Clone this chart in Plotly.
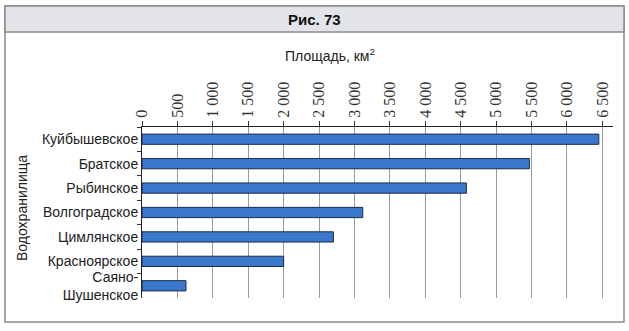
import plotly.graph_objects as go

# Reservoir surface areas, km²
reservoirs = ["Куйбышевское", "Братское", "Рыбинское", "Волгоградское",
              "Цимлянское", "Красноярское", "Саяно-<br>Шушенское"]
areas = [6450, 5470, 4580, 3117, 2702, 2000, 621]

tick_vals = [0, 500, 1000, 1500, 2000, 2500, 3000, 3500, 4000, 4500, 5000, 5500, 6000, 6500]
tick_text = ["0", "500", "1 000", "1 500", "2 000", "2 500", "3 000", "3 500",
             "4 000", "4 500", "5 000", "5 500", "6 000", "6 500"]

W_PX, H_PX = 629, 331
L, R, T, B = 142, 613, 127, 298


def px_x(px):
    return (px - L) / (R - L)


def px_y(py):
    return (B - py) / (B - T)


fig = go.Figure(go.Bar(
    x=areas, y=reservoirs, orientation="h",
    marker=dict(color="#3a78cc", line=dict(color="#1c2c4a", width=1)),
))

fig.update_layout(
    width=W_PX, height=H_PX,
    margin=dict(l=L, r=W_PX - R, t=T, b=H_PX - B),
    paper_bgcolor="white", plot_bgcolor="white",
    bargap=0.58, showlegend=False,
    font=dict(family="Liberation Sans, Arial, sans-serif", color="#222"),
    xaxis=dict(
        side="top", range=[0, 6650],
        tickvals=tick_vals, ticktext=tick_text, tickangle=-90,
        tickfont=dict(family="Liberation Serif, DejaVu Serif, serif", size=16, color="#333"),
        ticks="outside", ticklen=5, tickcolor="#333",
        showgrid=True, gridcolor="#9a9a9a", gridwidth=1,
        showline=True, linecolor="#222", linewidth=1,
        zeroline=False, fixedrange=True,
    ),
    yaxis=dict(
        autorange="reversed",
        tickfont=dict(size=14, color="#222"),
        ticks="outside", tickson="boundaries", ticklen=4, tickcolor="#333",
        showline=True, linecolor="#222", linewidth=1,
        showgrid=False, fixedrange=True,
    ),
    shapes=[
        # outer frame
        dict(type="rect", xref="paper", yref="paper",
             x0=px_x(5), x1=px_x(624), y0=px_y(322), y1=px_y(6),
             line=dict(color="#8a8a8a", width=1.5), fillcolor="rgba(0,0,0,0)", layer="below"),
        # header band
        dict(type="rect", xref="paper", yref="paper",
             x0=px_x(5), x1=px_x(624), y0=px_y(32), y1=px_y(6),
             line=dict(color="#8a8a8a", width=1.5), fillcolor="#e2e4e8", layer="below"),
    ],
    annotations=[
        dict(text="<b>Рис. 73</b>", xref="paper", yref="paper",
             x=px_x(314), y=px_y(19), xanchor="center", yanchor="middle", showarrow=False,
             font=dict(size=15, color="#111", family="Liberation Sans Narrow, Liberation Sans, Arial")),
        dict(text="Площадь, км<sup>2</sup>", xref="paper", yref="paper",
             x=px_x(330), y=px_y(55), xanchor="center", yanchor="middle", showarrow=False,
             font=dict(size=14, color="#222")),
        dict(text="Водохранилища", xref="paper", yref="paper",
             x=px_x(22), y=px_y(208), xanchor="center", yanchor="middle", showarrow=False,
             textangle=-90, font=dict(size=14, color="#222")),
    ],
)

fig.write_html("out.html")
